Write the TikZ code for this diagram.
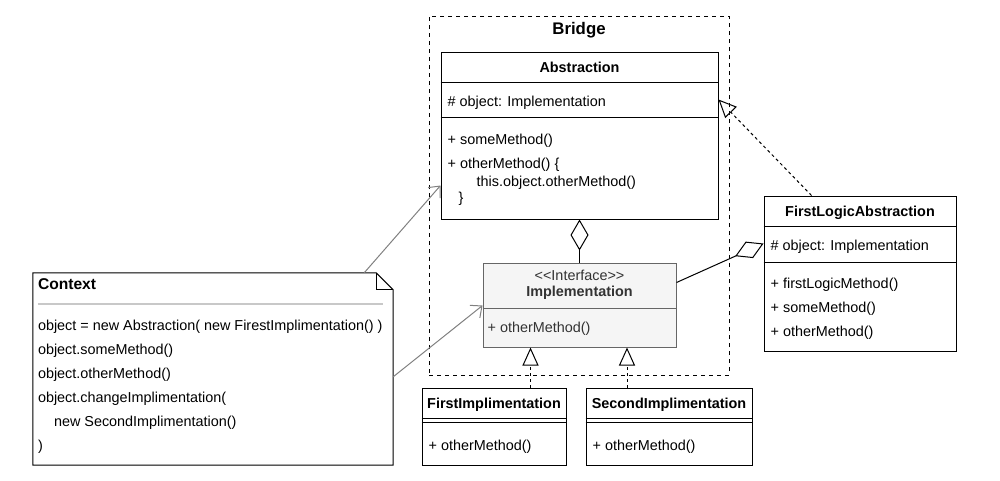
\documentclass[tikz,border=0pt]{standalone}
\usepackage{fontspec}
\setmainfont{Liberation Sans}
\usetikzlibrary{positioning}
\usetikzlibrary{calc}
\usetikzlibrary{arrows.meta}

\definecolor{ifacefill}{HTML}{F5F5F5}
\definecolor{ifaceline}{HTML}{666666}
\definecolor{ifacetext}{HTML}{333333}
\definecolor{usegray}{HTML}{808080}
\definecolor{rulegray}{HTML}{C8C8C8}

\tikzset{
  classbox/.style={draw, line width=1pt, fill=white, inner sep=0pt},
  member/.style={anchor=west, inner sep=0pt, text height=10pt, text depth=0pt, font=\fontsize{14.4}{17}\selectfont},
  title/.style={inner sep=0pt, text height=10pt, text depth=0pt, font=\fontsize{14.4}{17}\selectfont\bfseries},
  realize/.style={draw, line width=1pt, dash pattern=on 3pt off 3pt, -{Triangle[open, length=18pt, width=16pt]}},
  aggregate/.style={draw, line width=1pt, -{Diamond[open, length=31pt, width=18pt]}},
  uses/.style={draw=usegray, line width=1pt, -{Straight Barb[length=9pt, width=16pt]}}
}

\begin{document}
\begin{tikzpicture}[x=1pt, y=-1pt]
    \useasboundingbox (0,0) rectangle (1000,480);

    % bridge frame
    \node[draw, line width=1pt, dash pattern=on 4pt off 4pt, minimum width=300pt, minimum height=359pt, inner sep=0pt] (bridge) at (579,195.5) {};
    \node[title, font=\fontsize{16.8}{20}\selectfont\bfseries] (bridge_title) at ($(bridge.north)+(0,14)$) {Bridge};

    % abstraction
    \node[classbox, minimum width=277pt, minimum height=167pt] (abstraction) at (579.5,135.5) {};
    \node[title] (abstraction_title) at ($(abstraction.north)+(0,16)$) {Abstraction};
    \draw[line width=1pt] ($(abstraction.north west)+(0,31)$) -- ($(abstraction.north east)+(0,31)$);
    \draw[line width=1pt] ($(abstraction.north west)+(0,66)$) -- ($(abstraction.north east)+(0,66)$);
    \node[member] at ($(abstraction.north west)+(7,50)$) {\# object: Implementation};
    \node[member] at ($(abstraction.north west)+(7,88)$) {+ someMethod()};
    \node[member] at ($(abstraction.north west)+(7,112)$) {+ otherMethod() \{};
    \node[member] at ($(abstraction.north west)+(36,130)$) {this.object.otherMethod()};
    \node[member] at ($(abstraction.north west)+(18,146)$) {\}};

    % implementation interface
    \node[classbox, draw=ifaceline, fill=ifacefill, minimum width=193pt, minimum height=84pt] (implementation) at (579.5,305) {};
    \node[title, font=\fontsize{14.4}{17}\selectfont, text=ifacetext] at ($(implementation.north)+(0,13)$) {<{}<Interface>{}>};
    \node[title, text=ifacetext] (implementation_title) at ($(implementation.north)+(0,29)$) {Implementation};
    \draw[ifaceline, line width=1pt] ($(implementation.north west)+(0,46)$) -- ($(implementation.north east)+(0,46)$);
    \node[member, text=ifacetext] at ($(implementation.north west)+(5,65)$) {+ otherMethod()};

    % first logic abstraction
    \node[classbox, minimum width=192pt, minimum height=155pt] (first_logic) at (860,273.5) {};
    \node[title] (first_logic_title) at ($(first_logic.north)+(0,16)$) {FirstLogicAbstraction};
    \draw[line width=1pt] ($(first_logic.north west)+(0,31)$) -- ($(first_logic.north east)+(0,31)$);
    \draw[line width=1pt] ($(first_logic.north west)+(0,67)$) -- ($(first_logic.north east)+(0,67)$);
    \node[member] at ($(first_logic.north west)+(7,50)$) {\# object: Implementation};
    \node[member] at ($(first_logic.north west)+(7,88)$) {+ firstLogicMethod()};
    \node[member] at ($(first_logic.north west)+(7,112)$) {+ someMethod()};
    \node[member] at ($(first_logic.north west)+(7,136)$) {+ otherMethod()};

    % concrete implementations
    \node[classbox, minimum width=144pt, minimum height=77pt] (first_impl) at (494,426.5) {};
    \node[title] (first_impl_title) at ($(first_impl.north)+(0,16)$) {FirstImplimentation};
    \draw[line width=1pt] ($(first_impl.north west)+(0,31)$) -- ($(first_impl.north east)+(0,31)$);
    \draw[line width=1pt] ($(first_impl.north west)+(0,35)$) -- ($(first_impl.north east)+(0,35)$);
    \node[member] at ($(first_impl.north west)+(7,58)$) {+ otherMethod()};

    \node[classbox, minimum width=166pt, minimum height=77pt] (second_impl) at (669,426.5) {};
    \node[title] (second_impl_title) at ($(second_impl.north)+(0,16)$) {SecondImplimentation};
    \draw[line width=1pt] ($(second_impl.north west)+(0,31)$) -- ($(second_impl.north east)+(0,31)$);
    \draw[line width=1pt] ($(second_impl.north west)+(0,35)$) -- ($(second_impl.north east)+(0,35)$);
    \node[member] at ($(second_impl.north west)+(7,58)$) {+ otherMethod()};

    % context note
    \node[minimum width=360pt, minimum height=192pt, inner sep=0pt] (context) at (213,369) {};
    \draw[line width=1pt, fill=white] (context.south west) -- (context.north west) -- ($(context.north east)+(-17,0)$)
        -- ($(context.north east)+(0,17)$) -- (context.south east) -- cycle;
    \draw[line width=1pt] ($(context.north east)+(-17,0)$) -- ($(context.north east)+(-17,17)$) -- ($(context.north east)+(0,17)$);
    \node[member, font=\fontsize{15.6}{18}\selectfont\bfseries] at ($(context.north west)+(5,12)$) {Context};
    \draw[rulegray, line width=1.5pt] ($(context.north west)+(5,31)$) -- ($(context.north east)+(-10,31)$);
    \node[member] at ($(context.north west)+(5,53)$) {object = new Abstraction( new FirestImplimentation() )};
    \node[member] at ($(context.north west)+(5,77)$) {object.someMethod()};
    \node[member] at ($(context.north west)+(5,101)$) {object.otherMethod()};
    \node[member] at ($(context.north west)+(5,125)$) {object.changeImplimentation(};
    \node[member] at ($(context.north west)+(21,149)$) {new SecondImplimentation()};
    \node[member] at ($(context.north west)+(5,173)$) {)};

    % connectors
    \draw[aggregate] (implementation) -- (abstraction);
    \draw[aggregate] ($(implementation.north east)+(0,20)$) -- ($(first_logic.north west)+(0,48)$);
    \draw[realize] ($(first_logic.north west)+(48,0)$) -- ($(abstraction.north east)+(0,48)$);
    \draw[realize] ($(first_impl.north)+(36.5,0)$) -- ($(implementation.south)+(-49,0)$);
    \draw[realize] ($(second_impl.north)+(-42,0)$) -- ($(implementation.south)+(47.5,0)$);
    \draw[uses] ($(context.north east)+(-29,0)$) -- ($(abstraction.south west)+(0,-34)$);
    \draw[uses] ($(context.north east)+(0,104)$) -- ($(implementation.north west)+(0,43)$);
\end{tikzpicture}
\end{document}
